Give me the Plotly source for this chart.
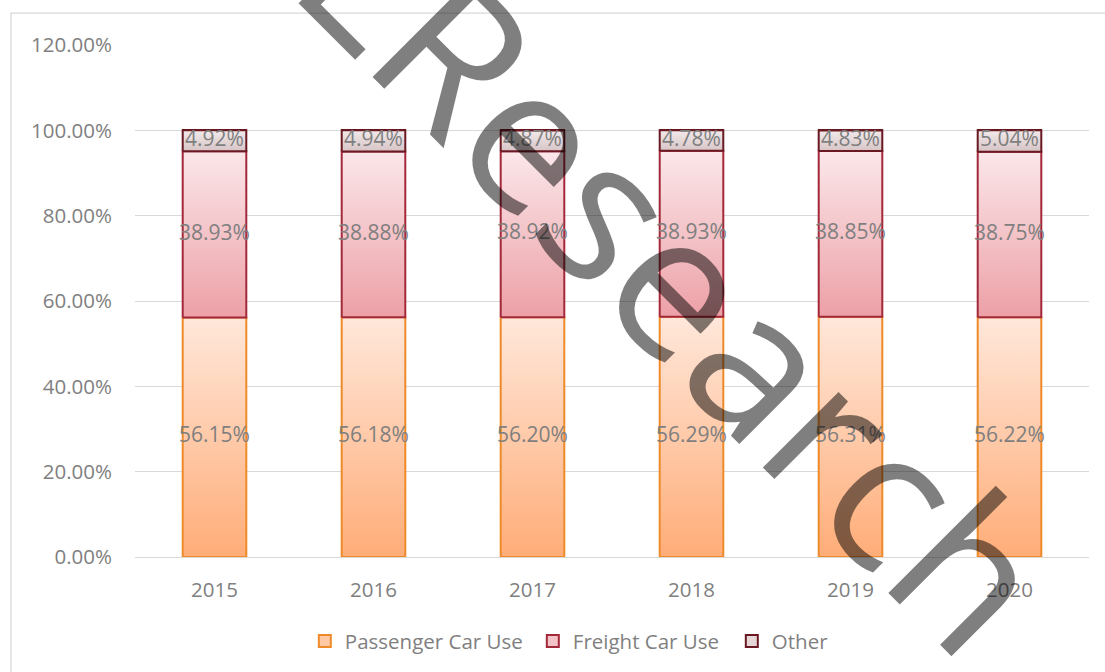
import plotly.graph_objects as go

years = ["2015", "2016", "2017", "2018", "2019", "2020"]
passenger = [0.5615, 0.5618, 0.5620, 0.5629, 0.5631, 0.5622]
freight = [0.3893, 0.3888, 0.3892, 0.3893, 0.3885, 0.3875]
other = [0.0492, 0.0494, 0.0487, 0.0478, 0.0483, 0.0504]
series_names = ["Passenger Car Use", "Freight Car Use", "Other"]
y_ticks = [0, 0.2, 0.4, 0.6, 0.8, 1.0, 1.2]
watermark = "LResearch"

FONT = "Open Sans"
GRAY = "#7F7F7F"
BAR_W = 0.4
fills = ["#FFC9A6", "#F4C3C7", "#E5D6D8"]
grad_bottom = ["#FFAD78", "#ECA0A6", "#D6C3C5"]
grad_top = ["#FFE7DA", "#FBE7EA", "#F2EAEB"]
lines = ["#EE8A2A", "#A3293A", "#6A1822"]
legend_widths = [183, 154, 60]

xs = list(range(len(years)))
fig = go.Figure()
series = [passenger, freight, other]

# bars (legend + base layer)
for name, vals, fc, lc, lw in zip(series_names, series, fills, lines, legend_widths):
    fig.add_trace(go.Bar(
        x=xs, y=vals, name=name, width=BAR_W, legendwidth=lw,
        marker=dict(color=fc, line=dict(color=lc, width=2)),
        hoverinfo="skip",
    ))

# gradient overlay of each bar segment, computed from the same data
base = [0.0] * len(years)
for vals, gb, gt, lc in zip(series, grad_bottom, grad_top, lines):
    px, py = [], []
    for i, (b, v) in enumerate(zip(base, vals)):
        x0, x1 = xs[i] - BAR_W / 2, xs[i] + BAR_W / 2
        px += [x0, x1, x1, x0, x0, None]
        py += [b, b, b + v, b + v, b, None]
    fig.add_trace(go.Scatter(
        x=px, y=py, mode="lines", fill="toself",
        fillgradient=dict(type="vertical", colorscale=[[0, gb], [1, gt]]),
        line=dict(color=lc, width=2),
        showlegend=False, hoverinfo="skip",
    ))
    base = [b + v for b, v in zip(base, vals)]

# data labels
base = [0.0] * len(years)
for vals in series:
    mids = [b + v / 2 for b, v in zip(base, vals)]
    fig.add_trace(go.Scatter(
        x=xs, y=mids, mode="text",
        text=[f"{v*100:.2f}%" for v in vals],
        textfont=dict(family=FONT, size=21, color=GRAY),
        showlegend=False, hoverinfo="skip", cliponaxis=False,
    ))
    base = [b + v for b, v in zip(base, vals)]

fig.update_layout(
    barmode="stack",
    width=1105, height=672,
    margin=dict(l=135, r=16, t=45, b=114),
    paper_bgcolor="white", plot_bgcolor="white",
    font=dict(family=FONT, size=20.5, color=GRAY),
    showlegend=True,
    legend=dict(
        orientation="h", x=0.178, xanchor="left", y=-0.162, yanchor="middle",
        font=dict(family=FONT, size=20.5, color=GRAY),
        traceorder="normal", bgcolor="rgba(0,0,0,0)",
    ),
    xaxis=dict(
        range=[-0.5, len(years) - 0.5], tickvals=xs, ticktext=years,
        showgrid=False, showline=False, zeroline=False,
        ticks="", ticklabelstandoff=18,
        tickfont=dict(family=FONT, size=20.5, color=GRAY),
    ),
    yaxis=dict(
        range=[0, 1.2], tickvals=y_ticks, tickformat=".2%",
        showgrid=True, gridcolor="#D9D9D9", gridwidth=1.3,
        zeroline=True, zerolinecolor="#D9D9D9", zerolinewidth=1.3,
        showline=False, ticks="", ticklabelstandoff=22,
        tickfont=dict(family=FONT, size=20.5, color=GRAY),
    ),
    shapes=[dict(
        type="rect", xref="paper", yref="paper",
        x0=-0.13, x1=1.2, y0=-0.3, y1=1.0624,
        line=dict(color="#D9D9D9", width=1.3), fillcolor="rgba(0,0,0,0)",
        layer="below",
    )],
    annotations=[dict(
        text=watermark, xref="paper", yref="paper",
        x=0.5694, y=0.5530, xanchor="center", yanchor="middle",
        textangle=45, showarrow=False,
        font=dict(family=FONT, size=200, color="rgba(0,0,0,0.5)"),
    )],
)

fig.write_html(
    "out.html",
    config={"displayModeBar": False},
    post_script="document.body.style.margin='0';",
)
